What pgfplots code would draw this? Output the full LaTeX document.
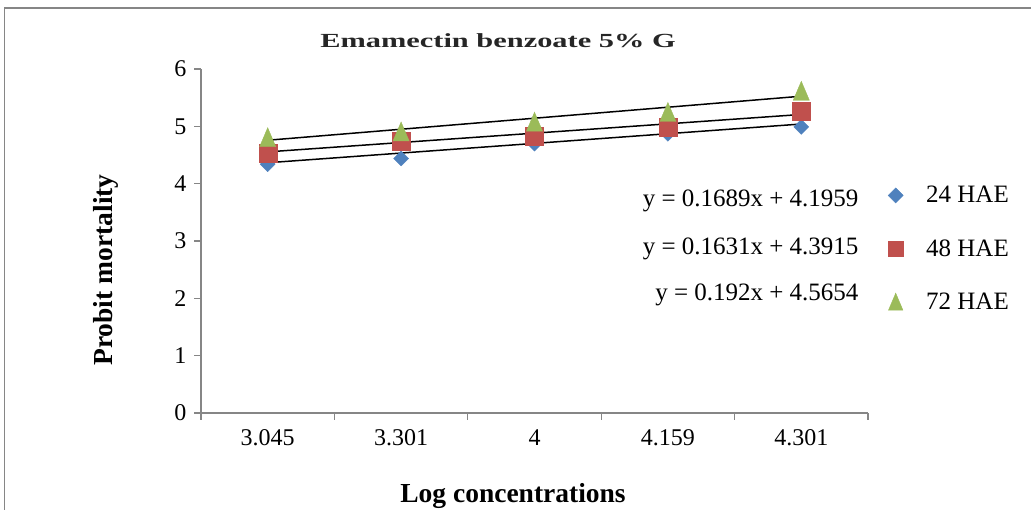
\documentclass[border=0pt]{standalone}
\usepackage{pgfplots}
\pgfplotsset{compat=1.18}
\usepackage{fontspec}
\setmainfont{Liberation Serif}
\definecolor{c24}{HTML}{4F81BD}
\definecolor{c48}{HTML}{C0504D}
\definecolor{c72}{HTML}{9BBB59}
\definecolor{axgray}{HTML}{868686}
\pgfdeclareplotmark{xdiamond}{%
  \pgfpathmoveto{\pgfqpoint{0pt}{\pgfplotmarksize}}%
  \pgfpathlineto{\pgfqpoint{\pgfplotmarksize}{0pt}}%
  \pgfpathlineto{\pgfqpoint{0pt}{-\pgfplotmarksize}}%
  \pgfpathlineto{\pgfqpoint{-\pgfplotmarksize}{0pt}}%
  \pgfpathclose\pgfusepathqfillstroke}
\pgfdeclareplotmark{xtri}{%
  \pgfpathmoveto{\pgfqpoint{0pt}{\pgfplotmarksize}}%
  \pgfpathlineto{\pgfqpoint{0.85\pgfplotmarksize}{-\pgfplotmarksize}}%
  \pgfpathlineto{\pgfqpoint{-0.85\pgfplotmarksize}{-\pgfplotmarksize}}%
  \pgfpathclose\pgfusepathqfillstroke}
\begin{document}
\begin{tikzpicture}[x=1pt,y=1pt]
\path[use as bounding box] (0,0) rectangle (1031,510);
\draw[axgray, line width=1.3pt] (4.5,-2) -- (4.5,502) -- (1033,502);
\begin{axis}[
  at={(201pt,97pt)}, anchor=origin,
  scale only axis, width=667pt, height=344pt,
  xmin=0.5, xmax=5.5, ymin=0, ymax=6,
  axis x line*=bottom, axis y line*=left,
  axis line style={axgray, line width=1.2pt},
  xtick={1,2,3,4,5},
  xticklabels={3.045,3.301,4,4.159,4.301},
  minor xtick={0.5,1.5,2.5,3.5,4.5,5.5},
  ytick={0,1,2,3,4,5,6},
  major x tick style={draw=none},
  tick style={axgray, line width=1.2pt},
  tick align=outside,
  major tick length=7pt, minor tick length=7pt,
  tick label style={font=\fontsize{24}{28}\selectfont},
  /pgf/number format/assume math mode=true,
  xticklabel style={yshift=-6pt},
  yticklabel style={xshift=-4pt},
  clip=false,
  legend style={draw=none, fill=none, at={(rel axis cs:1.03,0.665)}, anchor=north west,
    font=\fontsize{25}{30}\selectfont, row sep=31pt, inner sep=0pt},
  legend cell align=left,
]
\addplot[only marks, mark=xdiamond, mark size=7.5pt, color=c24, fill=c24,
  legend image post style={mark size=7.5pt}]
  coordinates {(1,4.34)(2,4.44)(3,4.70)(4,4.87)(5,4.99)};
\addlegendentry{\hspace*{21pt}24 HAE}
\addplot[only marks, mark=square*, mark size=9pt, color=c48, fill=c48,
  legend image post style={mark size=7.5pt}]
  coordinates {(1,4.53)(2,4.74)(3,4.82)(4,4.99)(5,5.26)};
\addlegendentry{\hspace*{21pt}48 HAE}
\addplot[only marks, mark=xtri, mark size=9.5pt, color=c72, fill=c72,
  legend image post style={mark size=8.5pt}]
  coordinates {(1,4.81)(2,4.91)(3,5.08)(4,5.25)(5,5.62)};
\addlegendentry{\hspace*{21pt}72 HAE}
\addplot[black, line width=1.5pt, forget plot] coordinates {(1,4.3648)(5,5.0404)};
\addplot[black, line width=1.5pt, forget plot] coordinates {(1,4.5546)(5,5.2070)};
\addplot[black, line width=1.5pt, forget plot] coordinates {(1,4.7574)(5,5.5254)};
\end{axis}
\node[anchor=base, font=\bfseries\fontsize{20}{24}\selectfont, text=black!85] at (498,462) {\scalebox{1.52}[1]{Emamectin benzoate 5\% G}};
\node[anchor=east, font=\fontsize{25}{30}\selectfont] at (862,309) {y = 0.1689x + 4.1959};
\node[anchor=east, font=\fontsize{25}{30}\selectfont] at (862,261) {y = 0.1631x + 4.3915};
\node[anchor=east, font=\fontsize{25}{30}\selectfont] at (862,215) {y = 0.192x + 4.5654};
\node[rotate=90, anchor=base, font=\bfseries\fontsize{27.5}{32}\selectfont] at (112,240) {Probit mortality};
\node[anchor=base, font=\bfseries\fontsize{27.5}{32}\selectfont] at (513,7) {Log concentrations};
\end{tikzpicture}
\end{document}
